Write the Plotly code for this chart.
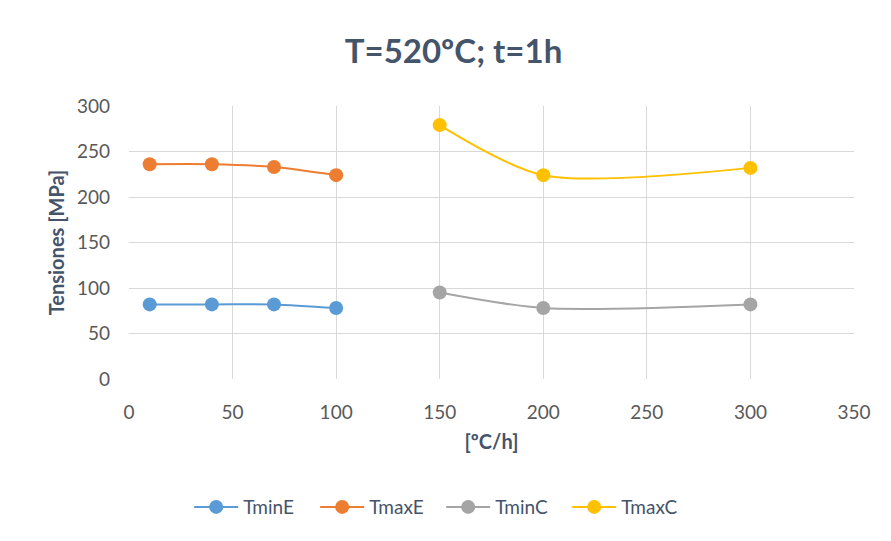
import plotly.graph_objects as go

x_E = [10, 40, 70, 100]
x_C = [150, 200, 300]
tmin_E = [82, 82, 82, 78]
tmax_E = [236, 236, 233, 224]
tmin_C = [95, 78, 82]
tmax_C = [279, 224, 232]

series = [
    ("TminE", x_E, tmin_E, "#5B9BD5"),
    ("TmaxE", x_E, tmax_E, "#ED7D31"),
    ("TminC", x_C, tmin_C, "#A5A5A5"),
    ("TmaxC", x_C, tmax_C, "#FFC000"),
]

x_ticks = [0, 50, 100, 150, 200, 250, 300, 350]
y_ticks = [0, 50, 100, 150, 200, 250, 300]

txt = "#595959"
ttl = "#44546A"
fig = go.Figure()
for name, xs, ys, col in series:
    fig.add_trace(go.Scatter(
        x=xs, y=ys, name=name, mode="lines+markers",
        line=dict(color=col, width=2, shape="spline", smoothing=0.8),
        marker=dict(color=col, size=14),
    ))

fig.update_layout(
    width=891, height=541,
    paper_bgcolor="white", plot_bgcolor="white",
    margin=dict(l=121, r=45, t=98, b=170),
    font=dict(family="Lato, Open Sans, sans-serif", color=txt, size=19),
    title=dict(text="<b>T=520ºC; t=1h</b>", x=0.5, xanchor="center", y=0.919, yanchor="middle",
               font=dict(size=33, color=ttl)),
    showlegend=True,
    legend=dict(orientation="h", x=0.083, xanchor="left", y=-0.469, yanchor="middle",
                font=dict(size=19, color=ttl), itemwidth=44,
                entrywidth=67, entrywidthmode="pixels"),
    xaxis=dict(range=[0, 350], tickvals=x_ticks, showgrid=True, gridcolor="#D9D9D9", gridwidth=1,
               zeroline=False, showline=False, ticks="", ticklabelstandoff=20,
               tickfont=dict(size=19, color=txt),
               title=dict(text="<b>[ºC/h]</b>", font=dict(size=20, color=ttl), standoff=12)),
    yaxis=dict(range=[0, 300], tickvals=y_ticks, showgrid=True, gridcolor="#D9D9D9", gridwidth=1,
               zeroline=False, showline=False, ticks="", ticklabelstandoff=18,
               tickfont=dict(size=19, color=txt),
               title=dict(text="<b>Tensiones [MPa]</b>", font=dict(size=20, color=ttl), standoff=6)),
)

fig.write_html("out.html")
